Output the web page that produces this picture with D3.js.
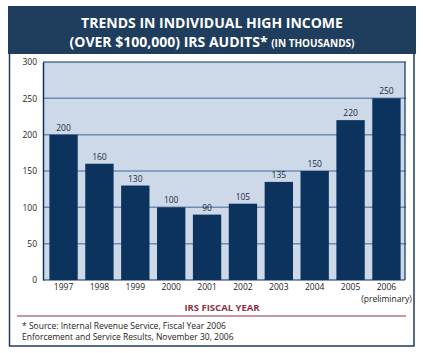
<!DOCTYPE html>
<html>
<head>
<meta charset="utf-8">
<script src="https://cdn.jsdelivr.net/npm/d3@7"></script>
<style>
  body { margin: 0; background: #ffffff; }
  text { font-family: "Open Sans", sans-serif; }
</style>
</head>
<body>
<div id="chart"></div>
<script>
var years = ["1997","1998","1999","2000","2001","2002","2003","2004","2005","2006"];
var audits = [200, 160, 130, 100, 90, 105, 135, 150, 220, 250];
var y_ticks = [0, 50, 100, 150, 200, 250, 300];

var width = 423, height = 353;
var navy = "#0c335e";

var svg = d3.select("#chart")
  .append("svg")
  .attr("width", width)
  .attr("height", height);

// title banner
svg.append("rect")
  .attr("x", 8).attr("y", 6)
  .attr("width", 408).attr("height", 48)
  .attr("fill", "#1f3d5c");

svg.append("text")
  .attr("x", 212).attr("y", 27.5)
  .attr("text-anchor", "middle")
  .attr("fill", "#ffffff")
  .attr("font-weight", "bold")
  .attr("font-size", 14)
  .text("TRENDS IN INDIVIDUAL HIGH INCOME");

var t2 = svg.append("text")
  .attr("x", 212).attr("y", 46.5)
  .attr("text-anchor", "middle")
  .attr("fill", "#ffffff")
  .attr("font-weight", "bold")
  .attr("font-size", 14);
t2.append("tspan").text("(OVER $100,000) IRS AUDITS* ");
t2.append("tspan").attr("font-size", 10).text("(IN THOUSANDS)");

// outer frame under the banner
svg.append("path")
  .attr("d", "M9.5,54 V346 H414 V54")
  .attr("fill", "none")
  .attr("stroke", "#1f3d5c")
  .attr("stroke-width", 1.5);

// scales
var x = d3.scaleBand()
  .domain(years)
  .range([44, 406])
  .paddingInner(0.21)
  .paddingOuter(0.15);

var y = d3.scaleLinear()
  .domain([0, 300])
  .range([280, 62]);

// plot background
svg.append("rect")
  .attr("x", 43).attr("y", y(300))
  .attr("width", 362).attr("height", y(0) - y(300))
  .attr("fill", "#cdd9e8");

// grid lines
svg.append("g")
  .selectAll("line")
  .data(y_ticks.filter(function(d){ return d > 0; }))
  .enter()
  .append("line")
  .attr("x1", 43).attr("x2", 406)
  .attr("y1", function(d){ return y(d); })
  .attr("y2", function(d){ return y(d); })
  .attr("stroke", function(d){ return d === 300 ? navy : "#6f8bb3"; })
  .attr("stroke-width", function(d){ return d === 300 ? 1.2 : 1.5; });

// y axis
var y_axis = d3.axisLeft(y)
  .tickValues(y_ticks)
  .tickSize(0)
  .tickPadding(6);

var yg = svg.append("g")
  .attr("transform", "translate(43,0)")
  .call(y_axis);
yg.select(".domain").attr("stroke", navy).attr("stroke-width", 1.5);
yg.selectAll(".tick text")
  .attr("fill", "#222")
  .attr("font-size", 8.5)
  .style("font-family", "Open Sans, sans-serif");

// right edge
svg.append("line")
  .attr("x1", 405).attr("x2", 405)
  .attr("y1", y(300)).attr("y2", y(0))
  .attr("stroke", navy)
  .attr("stroke-width", 1.2);

// bars
svg.append("g")
  .selectAll("rect")
  .data(audits)
  .enter()
  .append("rect")
  .attr("x", function(d,i){ return x(years[i]); })
  .attr("y", function(d){ return y(d); })
  .attr("width", x.bandwidth())
  .attr("height", function(d){ return y(0) - y(d); })
  .attr("fill", navy);

// value labels
svg.append("g")
  .selectAll("text")
  .data(audits)
  .enter()
  .append("text")
  .attr("x", function(d,i){ return x(years[i]) + x.bandwidth()/2; })
  .attr("y", function(d){ return y(d) - 4; })
  .attr("text-anchor", "middle")
  .attr("font-size", 8.5)
  .attr("fill", "#1a2a40")
  .text(function(d){ return d; });

// baseline
svg.append("line")
  .attr("x1", 43).attr("x2", 405)
  .attr("y1", y(0)).attr("y2", y(0))
  .attr("stroke", navy)
  .attr("stroke-width", 1.2);

// x labels
svg.append("g")
  .selectAll("text")
  .data(years)
  .enter()
  .append("text")
  .attr("x", function(d){ return x(d) + x.bandwidth()/2; })
  .attr("y", 290)
  .attr("text-anchor", "middle")
  .attr("font-size", 8.5)
  .attr("fill", "#222")
  .text(function(d){ return d; });

svg.append("text")
  .attr("x", x("2006") + x.bandwidth()/2)
  .attr("y", 302)
  .attr("text-anchor", "middle")
  .attr("font-size", 8.5)
  .attr("fill", "#222")
  .text("(preliminary)");

svg.append("text")
  .attr("x", 222).attr("y", 311)
  .attr("text-anchor", "middle")
  .attr("font-size", 9.5)
  .attr("font-weight", "bold")
  .attr("fill", "#8c3348")
  .text("IRS FISCAL YEAR");

// red rule
svg.append("line")
  .attr("x1", 17).attr("x2", 406)
  .attr("y1", 316).attr("y2", 316)
  .attr("stroke", "#8c3348")
  .attr("stroke-width", 1);

// footnote
svg.append("text")
  .attr("x", 22).attr("y", 329)
  .attr("font-size", 8.5)
  .attr("fill", "#222")
  .text("* Source: Internal Revenue Service, Fiscal Year 2006");

svg.append("text")
  .attr("x", 22).attr("y", 340)
  .attr("font-size", 8.5)
  .attr("fill", "#222")
  .text("Enforcement and Service Results, November 30, 2006");
</script>
</body>
</html>
